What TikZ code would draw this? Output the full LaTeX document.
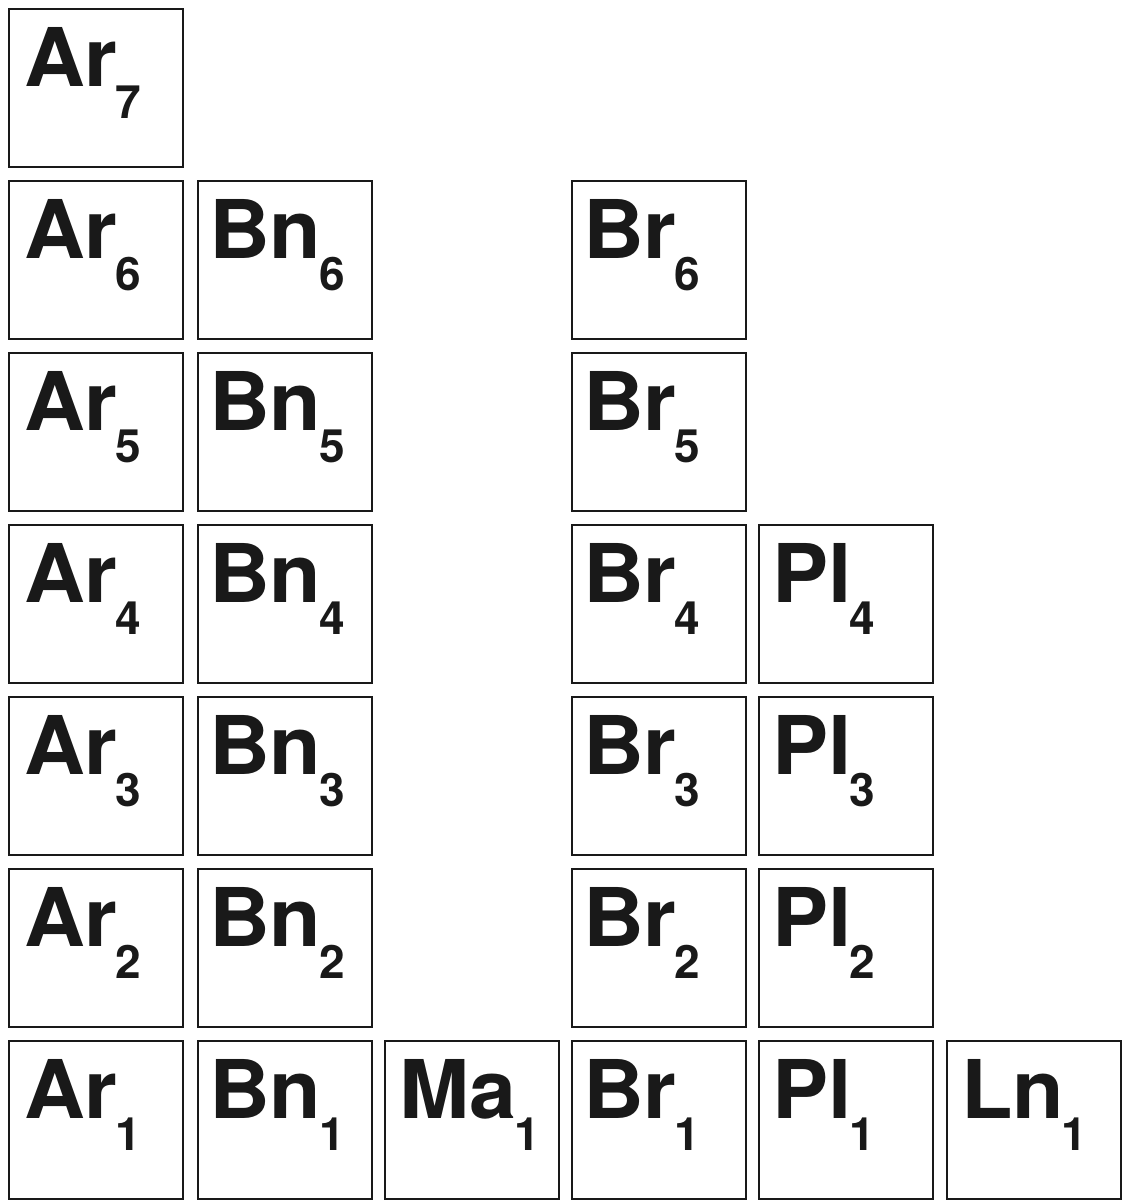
\documentclass[tikz,border=0pt]{standalone}
\usepackage{fontspec}
\setmainfont{TeX Gyre Heros}
\tikzset{
  x=1pt,y=1pt,
  cellbx/.style={draw=black!90,line width=1.3pt,minimum width=174pt,minimum height=158pt,inner sep=0pt,outer sep=0pt},
  cellbl/.style={anchor=base west,inner sep=0pt,outer sep=0pt,text=black!90}
}
\newcommand{\cellbox}[6]{%
  \node[cellbx] (#1) at ({#2+87},{-#3-79}) {};
  \node[cellbl] (#1t) at ({#2+15+#6},{-#3-77}) {\bfseries\scalebox{1.04}[1]{\fontsize{81}{81}\selectfont #4}\kern-2pt\raisebox{-32pt}{\fontsize{46}{46}\selectfont #5}};
}
\begin{document}
\begin{tikzpicture}
\useasboundingbox (0,0) rectangle (1124,-1200);
% column lefts: 9,198,385,572,759,947 ; row tops: 9,181,353,525,697,869,1041
\cellbox{ar7}{9}{9}{Ar}{7}{0}
\cellbox{ar6}{9}{181}{Ar}{6}{0}
\cellbox{ar5}{9}{353}{Ar}{5}{0}
\cellbox{ar4}{9}{525}{Ar}{4}{0}
\cellbox{ar3}{9}{697}{Ar}{3}{0}
\cellbox{ar2}{9}{869}{Ar}{2}{0}
\cellbox{ar1}{9}{1041}{Ar}{1}{0}
\cellbox{bn6}{198}{181}{Bn}{6}{-4}
\cellbox{bn5}{198}{353}{Bn}{5}{-4}
\cellbox{bn4}{198}{525}{Bn}{4}{-4}
\cellbox{bn3}{198}{697}{Bn}{3}{-4}
\cellbox{bn2}{198}{869}{Bn}{2}{-4}
\cellbox{bn1}{198}{1041}{Bn}{1}{-4}
\cellbox{ma1}{385}{1041}{Ma}{1}{-1}
\cellbox{br6}{572}{181}{Br}{6}{-4}
\cellbox{br5}{572}{353}{Br}{5}{-4}
\cellbox{br4}{572}{525}{Br}{4}{-4}
\cellbox{br3}{572}{697}{Br}{3}{-4}
\cellbox{br2}{572}{869}{Br}{2}{-4}
\cellbox{br1}{572}{1041}{Br}{1}{-4}
\cellbox{pl4}{759}{525}{Pl}{4}{-2}
\cellbox{pl3}{759}{697}{Pl}{3}{-2}
\cellbox{pl2}{759}{869}{Pl}{2}{-2}
\cellbox{pl1}{759}{1041}{Pl}{1}{-2}
\cellbox{ln1}{947}{1041}{Ln}{1}{-1}
\end{tikzpicture}
\end{document}
